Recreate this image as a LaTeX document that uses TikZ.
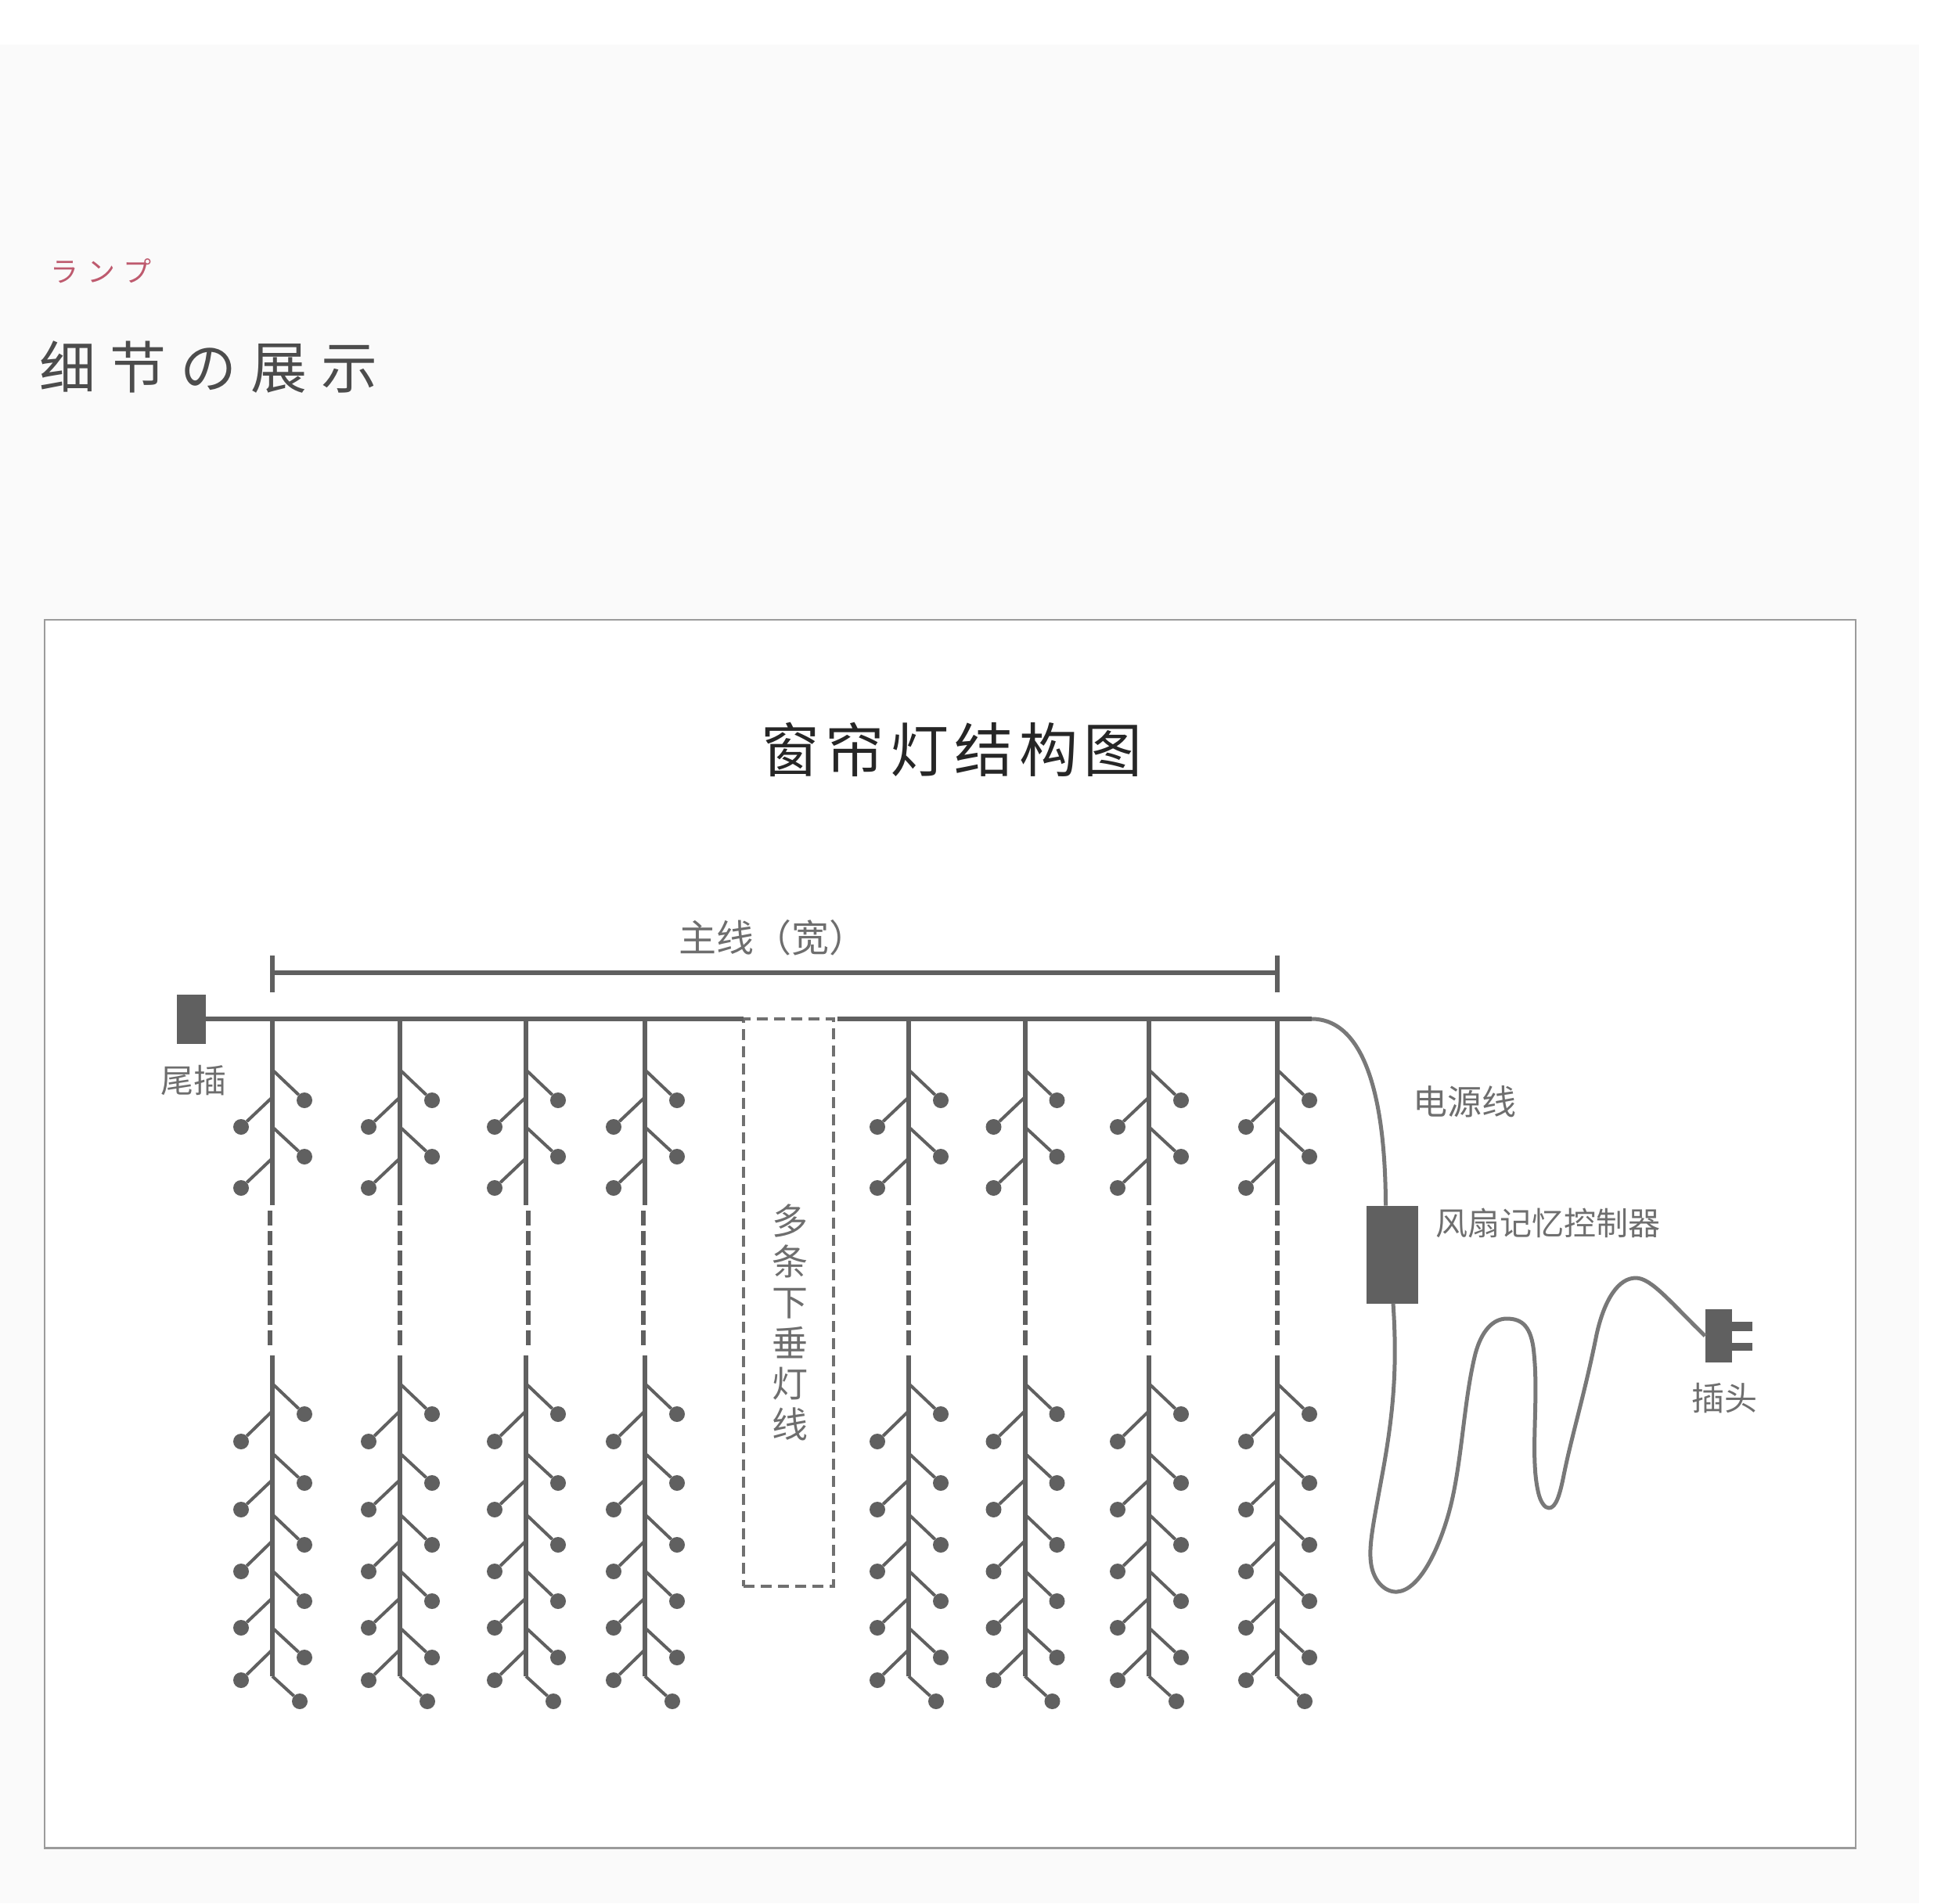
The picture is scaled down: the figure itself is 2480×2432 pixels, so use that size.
\documentclass[tikz,border=0pt]{standalone}
\usepackage{xcolor}
\usepackage{fontspec}
\usetikzlibrary{positioning}
\newfontfamily\cjk{Noto Sans CJK SC}
\newfontfamily\cjkhead[LetterSpace=25]{Noto Sans CJK SC}
\newfontfamily\cjkkana[LetterSpace=30]{Noto Sans CJK JP}
\newfontfamily\cjktitle[LetterSpace=10]{Noto Sans CJK SC}
\definecolor{panel}{RGB}{250,250,250}
\definecolor{wire}{RGB}{96,96,96}
\definecolor{edge}{RGB}{155,155,155}
\definecolor{rose}{RGB}{190,90,110}
\definecolor{ink}{RGB}{110,110,110}

\begin{document}
\begin{tikzpicture}[
  x=1pt, y=-1pt,
  label/.style={font=\cjk\fontsize{42}{50}\selectfont, text=ink, inner sep=0pt},
  block/.style={draw=none, fill=wire, inner sep=0pt, outer sep=0pt},
  stem/.style={draw=wire, line width=6pt},
  stemdash/.style={draw=wire, line width=6pt, dash pattern=on 18.5pt off 7pt},
  twig/.style={draw=wire, line width=4pt},
  bud/.style={circle, fill=wire, minimum size=20pt, inner sep=0pt},
  cable/.style={draw=wire!85, line width=5pt, line join=round},
  hidden/.style={draw=wire!90, line width=4pt, dash pattern=on 14pt off 8pt, outer sep=0pt},
]
\useasboundingbox (0,0) rectangle (2480,2432);
\fill[panel] (0,57) rectangle (2452,2432);
\node[draw=edge, line width=2.5pt, fill=white, minimum width=2314pt, minimum height=1569.5pt, inner sep=0pt] (frame) at (1214,1576.75) {};

\node[inner sep=0pt, text=rose, font=\cjkkana\fontsize{36}{43}\selectfont] (kana) at (129,346) {ランプ};
\node[inner sep=0pt, text=black!70, font=\cjkhead\fontsize{72}{86}\selectfont] (head) at (266,469) {细节の展示};
\node[inner sep=0pt, text=black!85, font=\cjktitle\fontsize{75}{90}\selectfont] (title) at (1216,958) {窗帘灯结构图};

% width bar
\coordinate (barl) at (348,1243);
\coordinate (barr) at (1632,1243);
\draw[stem] (barl) -- (barr);
\draw[stem] ([yshift=-25pt]barl) -- ([yshift=22pt]barl);
\draw[stem] ([yshift=-25pt]barr) -- ([yshift=22pt]barr);
\node[label, font=\cjk\fontsize{48}{56}\selectfont, anchor=west] (barlabel) at (867,1198) {主线（宽）};

% main line
\node[block, minimum width=37pt, minimum height=63pt] (tail) at (244.5,1302) {};
\node[label, below=28pt of tail, xshift=3pt] (taillabel) {尾插};
\node[hidden, minimum width=115pt, minimum height=725pt, inner sep=0pt] (gap) at (1007.5,1664.5) {};
\node[label, font=\cjk\fontsize{46}{52}\selectfont, align=center] (gaplabel) at (1009,1690) {多\\条\\下\\垂\\灯\\线};
\coordinate (bend) at (1676,1302);
\draw[stem] (tail.east) -- (gap.north west);
\draw[stem] ([xshift=5pt]gap.north east) -- (bend);

% hanging lines
\foreach \sx/\dx [count=\i] in {348/-3, 511/0, 672/3, 824/-2, 1161/0, 1309.5/0, 1468/0, 1632/0} {
  \coordinate (root\i) at (\sx,1302);
  \coordinate (mid\i) at (\sx,1540);
  \coordinate (low\i) at (\sx,1732);
  \coordinate (end\i) at (\sx,2142);
  \coordinate (da\i) at (\sx+\dx,1547);
  \coordinate (db\i) at (\sx+\dx,1724);
  \draw[stem] (root\i) -- (mid\i);
  \draw[stemdash] (da\i) -- (db\i);
  \draw[stem] (low\i) -- (end\i);
  \foreach \ya/\yb [count=\j] in {1367/1406, 1440/1478, 1768/1807, 1857/1895, 1935/1974, 2007/2046, 2080/2118} {
    \coordinate (rj\i\j) at (\sx,\ya);
    \node[bud] (rb\i\j) at (\sx+41,\yb) {};
    \draw[twig] (rj\i\j) -- (rb\i\j);
  }
  \foreach \ya/\yb [count=\j] in {1402/1440, 1480/1518, 1803/1842, 1891/1929, 1969/2008, 2042/2080, 2108/2147} {
    \coordinate (lj\i\j) at (\sx,\ya);
    \node[bud] (lb\i\j) at (\sx-40,\yb) {};
    \draw[twig] (lj\i\j) -- (lb\i\j);
  }
  \node[bud] (last\i) at (\sx+35,2174) {};
  \draw[twig] (end\i) -- (last\i);
}

% power cable
\node[block, minimum width=66pt, minimum height=125pt] (ctrl) at (1778.5,1603) {};
\node[label, font=\cjk\fontsize{41}{49}\selectfont, anchor=west] (ctrllabel) at (1834,1563) {风扇记忆控制器};
\node[label, font=\cjk\fontsize{44}{52}\selectfont] (powerlabel) at (1871,1408) {电源线};
\node[block, minimum width=34pt, minimum height=68pt] (plug) at (2195.5,1707) {};
\node[block, minimum width=26pt, minimum height=10pt, right=0pt of plug, yshift=-14pt] (pina) {};
\node[block, minimum width=26pt, minimum height=12pt, right=0pt of plug, yshift=12pt] (pinb) {};
\node[label] (pluglabel) at (2203,1787) {插头};
\draw[cable] (bend) .. controls (1735,1302) and (1770,1380) .. ([xshift=-8pt]ctrl.north);
\draw[cable] ([xshift=1.5pt]ctrl.south) .. controls (1785,1740) and (1782,1800) .. (1765,1890)
  .. controls (1755,1945) and (1750,1970) .. (1751,1990)
  .. controls (1752,2020) and (1770,2035) .. (1785,2034)
  .. controls (1815,2032) and (1840,1975) .. (1852,1930)
  .. controls (1868,1870) and (1870,1790) .. (1885,1730)
  .. controls (1893,1700) and (1908,1685) .. (1925,1685)
  .. controls (1945,1685) and (1957,1695) .. (1960,1730)
  .. controls (1966,1790) and (1955,1860) .. (1965,1905)
  .. controls (1968,1920) and (1974,1927) .. (1979,1927)
  .. controls (1988,1927) and (1993,1910) .. (1998,1885)
  .. controls (2008,1835) and (2025,1780) .. (2040,1705)
  .. controls (2050,1660) and (2068,1633) .. (2090,1633)
  .. controls (2110,1633) and (2135,1665) .. (plug.west);
\end{tikzpicture}
\end{document}
